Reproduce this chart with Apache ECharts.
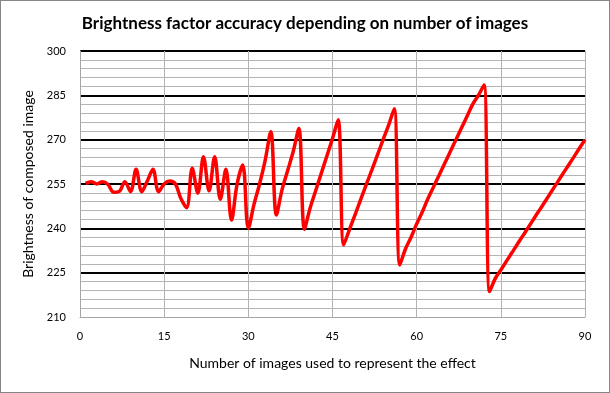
<!DOCTYPE html>
<html>
<head>
<meta charset="utf-8">
<script src="https://cdn.jsdelivr.net/npm/echarts@6/dist/echarts.min.js"></script>
<style>
html,body{margin:0;padding:0;background:#fff;}
#frame{position:absolute;left:0;top:0;width:608px;height:391px;border:1px solid #868686;}
#c{position:absolute;left:0;top:0;width:610px;height:393px;}
</style>
</head>
<body>
<div id="frame"></div>
<div id="c"></div>
<script>
const titleText = "Brightness factor accuracy depending on number of images";
const xAxisName = "Number of images used to represent the effect";
const yAxisName = "Brightness of composed image";
const imageCounts = [1,2,3,4,5,6,7,8,9,10,11,12,13,14,15,16,17,18,19,20,21,22,23,24,25,26,27,28,29,30,31,32,33,34,35,36,37,38,39,40,41,42,43,44,45,46,47,48,49,50,51,52,53,54,55,56,57,58,59,60,61,62,63,64,65,66,67,68,69,70,71,72,73,74,75,76,77,78,79,80,81,82,83,84,85,86,87,88,89,90];
const brightness = [255.2,255.8,255.0,255.8,254.8,252.2,252.5,255.8,252.4,260.0,252.4,256.0,260.0,252.4,255.0,256.0,255.0,250.0,247.0,260.3,251.9,264.2,252.7,264.2,249.8,260.0,242.8,255.0,261.4,240.0,248.0,255.0,263.0,272.7,244.5,253.0,259.5,266.0,273.8,239.7,246.8,252.7,258.6,264.5,270.4,276.7,234.4,239.5,244.5,249.6,254.7,259.7,264.8,269.9,274.9,280.5,227.6,233.0,237.0,241.5,245.5,250.0,254.0,258.0,262.0,266.0,270.0,274.0,278.0,282.0,285.0,288.5,218.6,223.0,225.9,228.9,231.8,234.8,237.7,240.6,243.6,246.5,249.4,252.4,255.3,258.3,261.2,264.1,267.1,270.0];
const xTicks = {min:0, max:90, interval:15};
const yTicks = {min:210, max:300, interval:15};

const chart = echarts.init(document.getElementById('c'), null, {renderer:'canvas'});
const font = 'Lato, "Open Sans", sans-serif';
chart.setOption({
  animation:false,
  backgroundColor:'transparent',
  title:{
    text:titleText, left:'center', top:10,
    textStyle:{fontFamily:font, fontSize:17, fontWeight:'bold', color:'#000'}
  },
  grid:{left:80, right:25, top:51, bottom:76, containLabel:false},
  xAxis:{
    type:'value', min:xTicks.min, max:xTicks.max, interval:xTicks.interval,
    name:xAxisName, nameLocation:'middle', nameGap:39,
    nameTextStyle:{fontFamily:font, fontSize:14, color:'#000'},
    axisLine:{show:true, onZero:false, lineStyle:{color:'#a6a6a6', width:1}},
    axisTick:{show:false},
    axisLabel:{fontFamily:font, fontSize:11, color:'#000', margin:14},
    splitLine:{show:true, lineStyle:{color:'#b3b3b3', width:1}}
  },
  yAxis:{
    type:'value', min:yTicks.min, max:yTicks.max, interval:yTicks.interval,
    name:yAxisName, nameLocation:'middle', nameGap:45, nameRotate:90,
    nameTextStyle:{fontFamily:font, fontSize:14, color:'#000'},
    axisLine:{show:true, lineStyle:{color:'#a6a6a6', width:1}},
    axisTick:{show:false},
    axisLabel:{fontFamily:font, fontSize:11, color:'#000', margin:14},
    splitLine:{show:true, lineStyle:{color:['rgba(0,0,0,0)','#000','#000','#000','#000','#000','#000'], width:2}},
    minorTick:{show:false, splitNumber:5},
    minorSplitLine:{show:true, lineStyle:{color:'#b3b3b3', width:1}}
  },
  series:[{
    type:'line',
    data:imageCounts.map((x,i)=>[x, brightness[i]]),
    smooth:0.35,
    showSymbol:false,
    lineStyle:{color:'#ff0000', width:3.5},
    itemStyle:{color:'#ff0000'},
    z:5
  }]
});
</script>
</body>
</html>
